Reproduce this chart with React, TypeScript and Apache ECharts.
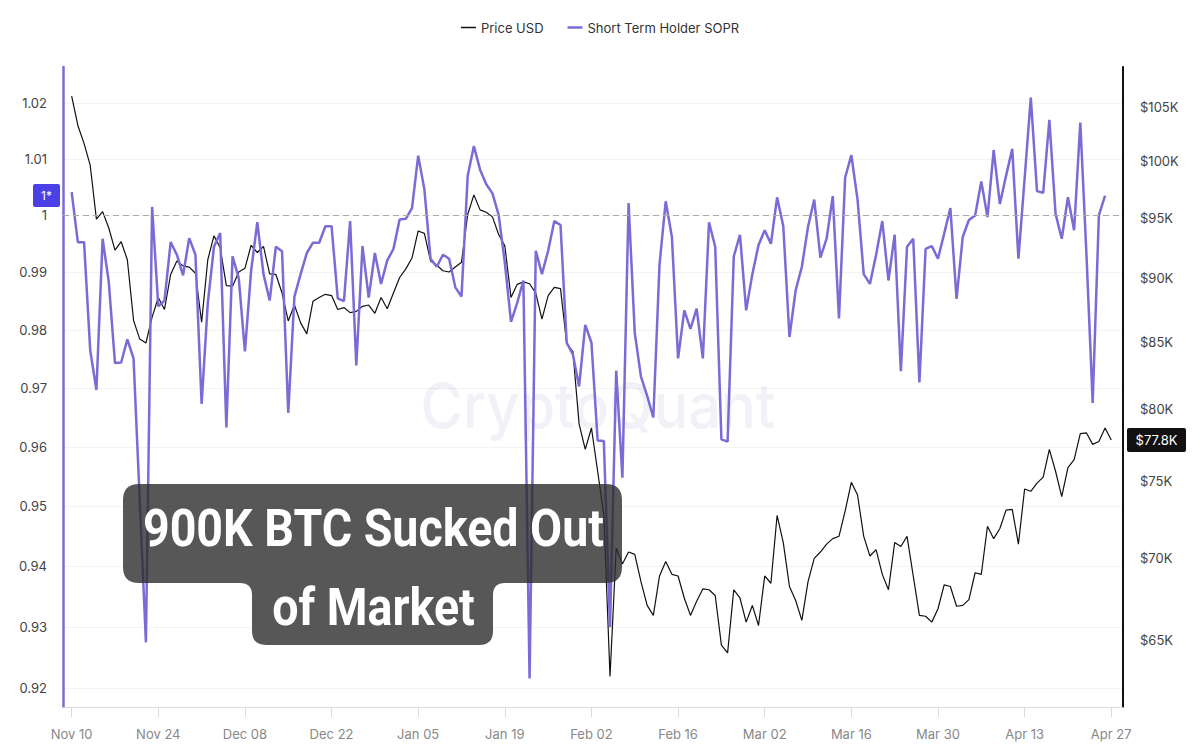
import React, { useEffect, useRef } from "react";
import * as echarts from "echarts";

// Day 0 = Nov 10 (daily data)
const xTickDays = [0, 14, 28, 42, 56, 70, 84, 98, 112, 126, 140, 154, 168];
const xTickLabels = ["Nov 10", "Nov 24", "Dec 08", "Dec 22", "Jan 05", "Jan 19", "Feb 02", "Feb 16", "Mar 02", "Mar 16", "Mar 30", "Apr 13", "Apr 27"];
const soprTicks = [0.92, 0.93, 0.94, 0.95, 0.96, 0.97, 0.98, 0.99, 1, 1.01, 1.02];
const priceTicksK = [65, 70, 75, 80, 85, 90, 95, 100, 105];

const soprValues = [
  1.0041, 0.9953, 0.9953, 0.9765, 0.9697, 0.9959, 0.9883, 0.9743, 0.9744, 0.9784,
  0.9751, 0.951, 0.9275, 1.0015, 0.9841, 0.9851, 0.9953, 0.9931, 0.9895, 0.996,
  0.9931, 0.9673, 0.9847, 0.9945, 0.9969, 0.9633, 0.9928, 0.989, 0.9763, 0.9903,
  0.9988, 0.9897, 0.9851, 0.9945, 0.9937, 0.9658, 0.9858, 0.9897, 0.9934, 0.9952,
  0.9952, 0.9981, 0.9981, 0.9855, 0.985, 0.999, 0.9739, 0.9946, 0.9856, 0.9934,
  0.988, 0.9921, 0.9941, 0.9993, 0.9994, 1.0013, 1.0106, 1.0046, 0.9924, 0.991,
  0.9931, 0.9924, 0.9874, 0.9858, 1.007, 1.0123, 1.0081, 1.0055, 1.0039, 1.0001,
  0.9917, 0.9814, 0.9847, 0.9886, 0.9216, 0.9938, 0.9897, 0.9938, 0.999, 0.9983,
  0.9778, 0.9758, 0.9703, 0.9809, 0.9778, 0.9611, 0.961, 0.93, 0.973, 0.9548,
  1.0022, 0.9795, 0.972, 0.9687, 0.965, 0.9914, 1.0025, 0.9962, 0.9751, 0.9834,
  0.9802, 0.9837, 0.9751, 0.9988, 0.9945, 0.9613, 0.9609, 0.9928, 0.9966, 0.9834,
  0.9897, 0.9948, 0.9974, 0.995, 1.0032, 0.9981, 0.9788, 0.9869, 0.991, 0.998,
  1.0028, 0.9926, 0.9959, 1.0034, 0.982, 1.0067, 1.0107, 1.0028, 0.9897, 0.988,
  0.9931, 0.999, 0.9886, 0.9966, 0.9729, 0.9945, 0.9959, 0.971, 0.9941, 0.9946,
  0.9924, 0.9968, 1.0013, 0.9854, 0.9962, 0.9992, 1.0, 1.006, 0.9997, 1.0116,
  1.002, 1.007, 1.0118, 0.9924, 1.0065, 1.021, 1.0043, 1.004, 1.017, 1.0003,
  0.9959, 1.0032, 0.9974, 1.0165, 0.993, 0.9675, 1.0, 1.0035,
];

const priceValuesK = [
  106.0, 103.25, 101.6, 99.6, 94.9, 95.55, 94.15, 92.3, 93.0, 91.5,
  86.65, 85.2, 84.9, 86.9, 88.45, 87.5, 90.3, 91.4, 91.0, 90.9,
  90.4, 86.5, 91.5, 93.5, 92.5, 89.4, 89.35, 90.5, 90.8, 92.7,
  92.1, 92.6, 90.35, 90.3, 88.8, 86.6, 87.85, 86.45, 85.6, 88.15,
  88.45, 88.7, 88.6, 87.5, 87.65, 87.25, 87.35, 87.75, 87.85, 87.2,
  88.45, 87.55, 88.8, 90.05, 90.75, 91.65, 93.9, 93.7, 91.4, 91.05,
  90.6, 90.5, 90.9, 91.3, 95.3, 97.0, 95.7, 95.5, 95.1, 93.6,
  92.65, 88.45, 89.5, 89.7, 89.55, 88.8, 86.75, 88.6, 89.25, 89.15,
  84.85, 84.25, 78.95, 77.15, 78.65, 75.65, 72.75, 62.9, 70.6, 69.6,
  70.35, 70.2, 68.5, 67.05, 66.45, 68.85, 69.75, 68.95, 68.85, 67.5,
  66.45, 67.3, 68.05, 68.0, 67.65, 64.7, 64.25, 68.0, 67.5, 66.05,
  67.05, 65.85, 68.85, 68.4, 72.7, 70.95, 68.2, 67.35, 66.15, 68.5,
  69.95, 70.35, 70.85, 71.2, 71.35, 73.0, 74.9, 74.05, 71.35, 70.1,
  70.5, 68.95, 68.0, 70.95, 70.7, 71.35, 68.85, 66.45, 66.4, 66.05,
  66.85, 68.3, 68.2, 67.0, 67.05, 67.4, 69.05, 68.95, 72.0, 71.2,
  71.85, 73.05, 73.1, 70.85, 74.45, 74.3, 74.85, 75.25, 77.15, 75.65,
  73.95, 75.9, 76.45, 78.25, 78.3, 77.5, 77.7, 78.65, 77.8,
];

const headline1 = "900K BTC Sucked Out";
const headline2 = "of Market";
const watermark = "CryptoQuant";

const boxPath =
  "M139 484H606Q622 484 622 500V567Q622 583 606 583H505Q493 583 493 595V631Q493 645 479 645H266Q252 645 252 631V595Q252 583 240 583H139Q123 583 123 567V500Q123 484 139 484Z";
echarts.graphic.registerShape("calloutBox", echarts.graphic.extendPath(boxPath, {}));

const PURPLE = "#7a6cd6";
const FONT = "Inter, 'Noto Sans', sans-serif";

function measure(text: string, font: string): number {
  const ctx = document.createElement("canvas").getContext("2d");
  if (!ctx) return 1;
  ctx.font = font;
  return ctx.measureText(text).width || 1;
}

export default function App() {
  const ref = useRef<HTMLDivElement>(null);

  useEffect(() => {
    if (!ref.current) return;
    const chart = echarts.init(ref.current, null, { renderer: "svg" });

    const log = (v: number) => Math.log10(v);
    const lastPrice = priceValuesK[priceValuesK.length - 1];

    chart.setOption({
      animation: false,
      backgroundColor: "#ffffff",
      textStyle: { fontFamily: FONT },
      legend: {
        top: 16,
        left: "center",
        itemWidth: 15,
        itemHeight: 10,
        itemGap: 24,
        textStyle: { color: "#333", fontSize: 13, fontFamily: FONT },
        data: [
          { name: "Price USD", icon: "path://M0,4.25H15V5.75H0Z" },
          { name: "Short Term Holder SOPR", icon: "path://M0,3.75H15V6.25H0Z" },
        ],
      },
      grid: { left: 63, right: 77, top: 67, bottom: 48, containLabel: false, outerBoundsMode: "none" },
      xAxis: {
        type: "value",
        min: -1.4,
        max: 169.9,
        axisLine: { show: true, onZero: false, lineStyle: { color: "#dcdcdc", width: 1 } },
        axisTick: { show: true, customValues: xTickDays, length: 10, lineStyle: { color: "#dcdcdc" } },
        axisLabel: {
          customValues: xTickDays,
          color: "#888",
          fontSize: 13,
          margin: 20,
          fontFamily: FONT,
          formatter: (v: number) => {
            let best = 0;
            xTickDays.forEach((d, i) => {
              if (Math.abs(d - v) < Math.abs(xTickDays[best] - v)) best = i;
            });
            return xTickLabels[best];
          },
        },
        splitLine: { show: false },
      },
      yAxis: [
        {
          type: "value",
          position: "left",
          min: log(0.91699),
          max: log(1.02651),
          axisLine: { show: true, onZero: false, lineStyle: { color: PURPLE, width: 2.5 } },
          axisTick: { show: false, customValues: soprTicks.map(log) },
          axisLabel: {
            customValues: soprTicks.map(log),
            color: "#444",
            fontSize: 13,
            margin: 16,
            fontFamily: FONT,
            formatter: (v: number) => String(Number(Math.pow(10, v).toFixed(2))),
          },
          splitLine: { show: true, lineStyle: { color: "#f3f3f3", width: 1 } },
        },
        {
          type: "value",
          position: "right",
          min: 1.786719,
          max: 2.036719,
          axisLine: { show: true, onZero: false, lineStyle: { color: "#111", width: 2 } },
          axisTick: { show: false, customValues: priceTicksK.map(log) },
          axisLabel: {
            customValues: priceTicksK.map(log),
            color: "#444",
            fontSize: 13,
            margin: 17,
            fontFamily: FONT,
            formatter: (v: number) => "$" + Math.round(Math.pow(10, v)) + "K",
          },
          splitLine: { show: false },
        },
      ],
      series: [
        {
          name: "Price USD",
          type: "line",
          yAxisIndex: 1,
          symbol: "none",
          data: priceValuesK.map((p, i) => [i, log(p)]),
          lineStyle: { color: "#111", width: 1.2 },
          itemStyle: { color: "#111" },
          z: 2,
        },
        {
          name: "Short Term Holder SOPR",
          type: "line",
          yAxisIndex: 0,
          symbol: "none",
          data: soprValues.map((v, i) => [i, log(v)]),
          lineStyle: { color: PURPLE, width: 2.5 },
          itemStyle: { color: PURPLE },
          z: 3,
          markLine: {
            silent: true,
            symbol: "none",
            label: { show: false },
            lineStyle: { color: "#aaa", type: [6, 4], width: 1 },
            data: [{ yAxis: 0 }],
          },
        },
      ],
    });

    const yBadge = chart.convertToPixel({ yAxisIndex: 1 }, log(lastPrice)) as number;

    const headFont = "bold 52px Roboto";
    const headScale = 461 / measure(headline1, headFont);
    const wmFont = "500 62px Inter";
    const wmScale = 355 / measure(watermark, wmFont);

    chart.setOption({
      graphic: {
        elements: [
          {
            type: "text",
            x: 598,
            y: 405,
            scaleX: wmScale,
            z: 0,
            silent: true,
            style: {
              text: watermark,
              font: wmFont,
              fill: "rgba(120,120,185,0.10)",
              align: "center",
              verticalAlign: "middle",
              textAlign: "center",
              textVerticalAlign: "middle",
            },
          },
          {
            type: "rect",
            z: 50,
            shape: { x: 33, y: 184, width: 27, height: 23, r: 2 },
            style: { fill: "#4b3fe6" },
          },
          {
            type: "text",
            x: 46.5,
            y: 195.5,
            z: 51,
            style: {
              text: "1*",
              font: "12px Inter",
              fill: "#ffffff",
              align: "center",
              verticalAlign: "middle",
              textAlign: "center",
              textVerticalAlign: "middle",
            },
          },
          {
            type: "rect",
            z: 50,
            shape: { x: 1127, y: yBadge - 12, width: 59, height: 24, r: 2 },
            style: { fill: "#111111" },
          },
          {
            type: "text",
            x: 1156.5,
            y: yBadge,
            z: 51,
            style: {
              text: "$" + lastPrice.toFixed(1) + "K",
              font: "13px Inter",
              fill: "#ffffff",
              align: "center",
              verticalAlign: "middle",
              textAlign: "center",
              textVerticalAlign: "middle",
            },
          },
          {
            type: "calloutBox",
            x: 0,
            y: 0,
            scaleX: 1,
            scaleY: 1,
            z: 100,
            style: { fill: "rgba(45,45,45,0.8)" },
          },
          {
            type: "text",
            x: 373.5,
            y: 528,
            scaleX: headScale,
            z: 101,
            style: {
              text: headline1,
              font: headFont,
              fill: "#ffffff",
              align: "center",
              verticalAlign: "middle",
              textAlign: "center",
              textVerticalAlign: "middle",
            },
          },
          {
            type: "text",
            x: 373.5,
            y: 607,
            scaleX: headScale,
            z: 101,
            style: {
              text: headline2,
              font: headFont,
              fill: "#ffffff",
              align: "center",
              verticalAlign: "middle",
              textAlign: "center",
              textVerticalAlign: "middle",
            },
          },
        ],
      },
    });

    return () => chart.dispose();
  }, []);

  return (
    <div
      ref={ref}
      style={{ position: "fixed", left: 0, top: 0, width: 1200, height: 755, background: "#fff" }}
    />
  );
}
